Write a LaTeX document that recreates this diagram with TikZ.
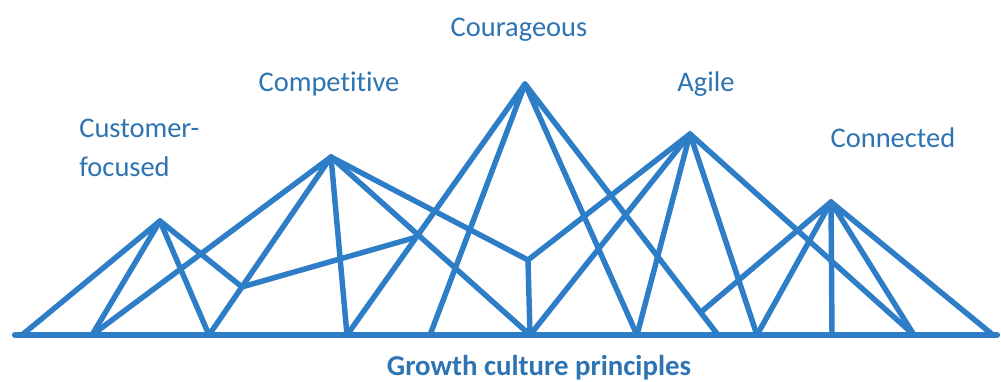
\documentclass[tikz,border=0pt]{standalone}
\usepackage{fontspec}
\setmainfont{Carlito}[Ligatures=NoCommon]
\usepackage{tikz}
\usetikzlibrary{arrows,calc}
\definecolor{qqttcc}{rgb}{0.18,0.49,0.78}
\definecolor{qqttbb}{rgb}{0.18,0.45,0.70}

\begin{document}
\begin{tikzpicture}[line cap=round,line join=round,x=0.02cm,y=-0.02cm]
    \useasboundingbox (0,0) rectangle (1001,382);
    \tikzset{beam/.style={color=qqttcc,line width=3.1pt},
      peaklabel/.style={color=qqttbb,font=\fontsize{16.2}{20}\selectfont,inner sep=0pt}}
    % peaks
    \coordinate (p1) at (160,221);
    \coordinate (p2) at (331,157);
    \coordinate (p3) at (525,84);
    \coordinate (p4) at (690,134);
    \coordinate (p5) at (831,202);
    % ground points
    \foreach \n/\xb in {1/22,2/92,3/209,4/347,5/430,6/530,7/637,8/718,9/757,10/832,11/914,12/993}
      \coordinate (b\n) at (\xb,335);
    \coordinate (gl) at (15,335);
    \coordinate (gr) at (997,335);
    % joints
    \coordinate (j1) at ($(p2)!0.73!(b3)$);
    \coordinate (j2) at (528,260);
    \coordinate (j3) at ($(p3)!0.91!(b8)$);
    \coordinate (j4) at ($(p3)!0.61!(b4)$);
    \draw [beam,line width=3.5pt] (gl)-- (gr);
    \draw [beam] (b1)-- (p1)-- (b2);
    \draw [beam] (p1)-- (b3);
    \draw [beam] (p1)-- (j1)-- (j4);
    \draw [beam] (b2)-- (p2)-- (b3);
    \draw [beam] (p2)-- (b4);
    \draw [beam] (p2)-- (j2)-- (b6);
    \draw [beam] (p2)-- (b6);
    \draw [beam] (b4)-- (p3)-- (b5);
    \draw [beam] (b7)-- (p3)-- (b8);
    \draw [beam] (j2)-- (p4);
    \draw [beam] (b6)-- (p4)-- (b7);
    \draw [beam] (b9)-- (p4)-- (b11);
    \draw [beam] (j3)-- (p5)-- (b9);
    \draw [beam] (p5)-- (b10);
    \draw [beam] (b11)-- (p5)-- (b12);
    \begin{scope}
      \node[peaklabel,anchor=west,align=left] (cust) at (79,148) {Customer-\\[2pt]focused};
      \node[peaklabel] (comp) at (329,84) {Competitive};
      \node[peaklabel] (cour) at (519,30) {Courageous};
      \node[peaklabel] (agil) at (706,84) {Agile};
      \node[peaklabel] (conn) at (893,138) {Connected};
      \node[peaklabel,font=\fontsize{16.4}{20}\selectfont\bfseries] (grow) at (539,368) {Growth culture principles};
    \end{scope}
  \end{tikzpicture}
\end{document}
